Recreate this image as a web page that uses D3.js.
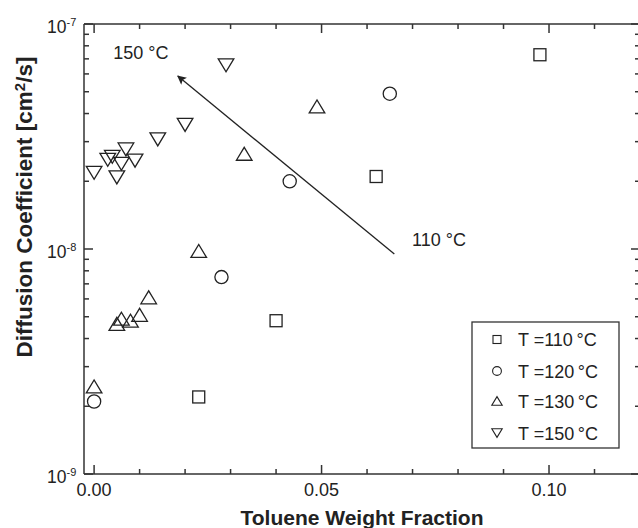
<!DOCTYPE html>
<html>
<head>
<meta charset="utf-8">
<script src="https://cdn.jsdelivr.net/npm/d3@7"></script>
<style>
  body { margin: 0; background: #fff; }
  svg { display: block; font-family: "Liberation Sans", Arial, sans-serif; }
</style>
</head>
<body>
<div id="viz"></div>
<script>
// toluene weight fraction / diffusion coefficient [cm2/s], one pair of arrays per temperature
const x110 = [0.098, 0.062, 0.040, 0.023];
const d110 = [7.3e-8, 2.1e-8, 4.8e-9, 2.2e-9];

const x120 = [0.065, 0.043, 0.028, 0.000];
const d120 = [4.9e-8, 2.0e-8, 7.5e-9, 2.1e-9];

const x130 = [0.049, 0.033, 0.023, 0.012, 0.010, 0.008, 0.006, 0.005, 0.000];
const d130 = [4.3e-8, 2.65e-8, 9.8e-9, 6.1e-9, 5.1e-9, 4.8e-9, 4.9e-9, 4.65e-9, 2.45e-9];

const x150 = [0.029, 0.020, 0.014, 0.007, 0.009, 0.004, 0.003, 0.006, 0.005, 0.000];
const d150 = [6.55e-8, 3.56e-8, 3.07e-8, 2.77e-8, 2.47e-8, 2.57e-8, 2.49e-8, 2.39e-8, 2.08e-8, 2.18e-8];

const seriesNames = ["T =110\u2009°C", "T =120\u2009°C", "T =130\u2009°C", "T =150\u2009°C"];
const seriesShapes = ["square", "circle", "up", "down"];

const xMajor = [0.00, 0.05, 0.10];
const xMajorLabels = ["0.00", "0.05", "0.10"];
const yDecades = [1e-9, 1e-8, 1e-7];
const yDecadeExp = ["-9", "-8", "-7"];

// arrow annotation (data coordinates)
const arrowFrom = [0.066, 9.5e-9];
const arrowTo = [0.0184, 5.87e-8];
const noteHigh = { x: 0.0042, y: 7.0e-8, text: "150 °C" };
const noteLow = { x: 0.0699, y: 1.03e-8, text: "110 °C" };

const width = 638, height = 528;
const margin = { top: 24, right: -2, bottom: 54, left: 84 };
const ink = "#222", axisInk = "#333";

const svg = d3.select("#viz").append("svg")
  .attr("width", width).attr("height", height);

const x = d3.scaleLinear()
  .domain([-0.00222, 0.12])
  .range([margin.left, width - margin.right]);
const y = d3.scaleLog()
  .domain([1e-9, 1e-7])
  .range([height - margin.bottom, margin.top]);

const pLeft = x.range()[0], pRight = x.range()[1];
const pTop = y.range()[1], pBottom = y.range()[0];

// frame: left, top and bottom spines (right one falls off the page)
const frame = svg.append("g").attr("stroke", axisInk).attr("stroke-width", 1.5);
frame.append("line").attr("x1", pLeft).attr("x2", pLeft).attr("y1", pTop).attr("y2", pBottom);
frame.append("line").attr("x1", pLeft).attr("x2", width).attr("y1", pTop).attr("y2", pTop);
frame.append("line").attr("x1", pLeft).attr("x2", width).attr("y1", pBottom).attr("y2", pBottom);

// ticks, all pointing inward
const xTicks = d3.range(0, 13).map(i => i / 100);
const isMajorX = v => xMajor.some(m => Math.abs(m - v) < 1e-9);
const yTicks = [];
yDecades.forEach(dec => {
  for (let k = 1; k <= 9; k++) {
    if (dec * k <= 1e-7 * 1.0001) yTicks.push({ v: dec * k, major: k === 1 });
  }
});

const tickG = svg.append("g").attr("stroke", axisInk).attr("stroke-width", 1.5);
xTicks.forEach(v => {
  const len = isMajorX(v) ? 9 : 5;
  tickG.append("line").attr("x1", x(v)).attr("x2", x(v)).attr("y1", pBottom).attr("y2", pBottom - len);
  tickG.append("line").attr("x1", x(v)).attr("x2", x(v)).attr("y1", pTop).attr("y2", pTop + len);
});
yTicks.forEach(t => {
  const len = t.major ? 9 : 5;
  tickG.append("line").attr("x1", pLeft).attr("x2", pLeft + len).attr("y1", y(t.v)).attr("y2", y(t.v));
  tickG.append("line").attr("x1", pRight).attr("x2", pRight - len).attr("y1", y(t.v)).attr("y2", y(t.v));
});

// tick labels
svg.append("g").selectAll("text")
  .data(xMajor)
  .enter().append("text")
  .attr("x", d => x(d)).attr("y", pBottom + 22)
  .attr("text-anchor", "middle")
  .attr("font-size", 18).attr("fill", ink)
  .text((d, i) => xMajorLabels[i]);

const yl = svg.append("g").selectAll("text")
  .data(yDecades)
  .enter().append("text")
  .attr("x", pLeft - 37).attr("y", d => y(d) + 9)
  .attr("font-size", 17.5).attr("fill", ink);
yl.append("tspan").text("10");
yl.append("tspan").attr("dy", -7).attr("font-size", 11).text((d, i) => yDecadeExp[i]);

// axis titles
svg.append("text")
  .attr("x", 362).attr("y", 525)
  .attr("text-anchor", "middle")
  .attr("font-size", 21).attr("font-weight", "bold").attr("fill", ink)
  .text("Toluene Weight Fraction");

const yt = svg.append("text")
  .attr("transform", "translate(32,207) rotate(-90)")
  .attr("text-anchor", "middle")
  .attr("font-size", 22.5).attr("font-weight", "bold").attr("fill", ink);
yt.append("tspan").text("Diffusion Coefficient [cm");
yt.append("tspan").attr("dy", -7).attr("font-size", 15).text("2");
yt.append("tspan").attr("dy", 7).text("/s]");

// markers
function marker(g, shape, cx, cy, s) {
  if (shape === "square") {
    g.append("rect").attr("x", cx - s / 2).attr("y", cy - s / 2).attr("width", s).attr("height", s);
  } else if (shape === "circle") {
    g.append("circle").attr("cx", cx).attr("cy", cy).attr("r", s * 0.55);
  } else {
    const w = s * 1.3, h = s * 1.08;
    const p = shape === "up"
      ? [[cx - w / 2, cy + h / 2], [cx + w / 2, cy + h / 2], [cx, cy - h / 2]]
      : [[cx - w / 2, cy - h / 2], [cx + w / 2, cy - h / 2], [cx, cy + h / 2]];
    g.append("path").attr("d", d3.line()(p) + "Z");
  }
}

const allX = [x110, x120, x130, x150];
const allD = [d110, d120, d130, d150];
const pts = svg.append("g").attr("fill", "none").attr("stroke", ink).attr("stroke-width", 1.3);
allX.forEach((xs, si) => {
  xs.forEach((v, i) => marker(pts, seriesShapes[si], x(v), y(allD[si][i]), 12));
});

// arrow
svg.append("defs").append("marker")
  .attr("id", "head").attr("viewBox", "0 0 10 10")
  .attr("refX", 9).attr("refY", 5)
  .attr("markerWidth", 15).attr("markerHeight", 9)
  .attr("markerUnits", "userSpaceOnUse")
  .attr("orient", "auto")
  .append("path").attr("d", "M0,0 L10,5 L0,10 L2,5 Z").attr("fill", ink);

svg.append("line")
  .attr("x1", x(arrowFrom[0])).attr("y1", y(arrowFrom[1]))
  .attr("x2", x(arrowTo[0])).attr("y2", y(arrowTo[1]))
  .attr("stroke", ink).attr("stroke-width", 1.3)
  .attr("marker-end", "url(#head)");

[noteHigh, noteLow].forEach(n => {
  svg.append("text")
    .attr("x", x(n.x)).attr("y", y(n.y))
    .attr("font-size", 18).attr("fill", ink)
    .text(n.text);
});

// legend
const lg = svg.append("g").attr("transform", "translate(472,322)");
lg.append("rect").attr("width", 147).attr("height", 126)
  .attr("fill", "#fff").attr("stroke", axisInk).attr("stroke-width", 1.3);
const rowY = [17.5, 49, 79, 111];
const lm = lg.append("g").attr("fill", "none").attr("stroke", ink).attr("stroke-width", 1.1);
seriesNames.forEach((name, i) => {
  marker(lm, seriesShapes[i], 25, rowY[i], 8);
  lg.append("text")
    .attr("x", 46).attr("y", rowY[i] + 6.5)
    .attr("font-size", 18).attr("fill", ink)
    .text(name);
});
</script>
</body>
</html>
